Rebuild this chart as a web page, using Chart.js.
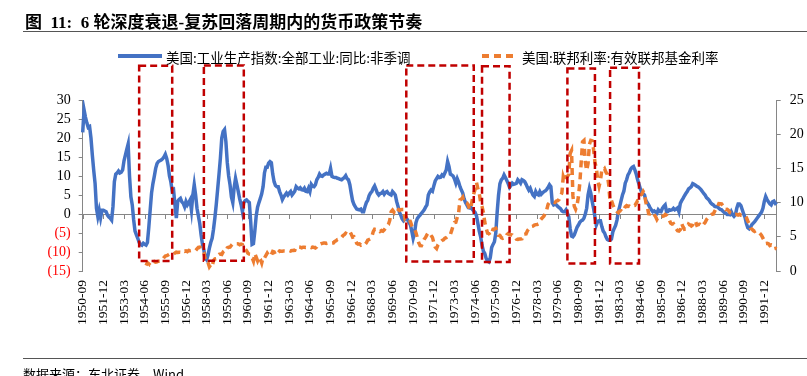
<!DOCTYPE html>
<html>
<head>
<meta charset="utf-8">
<script src="https://cdn.jsdelivr.net/npm/chart.js@4/dist/chart.umd.min.js"></script>
<style>
  body { margin: 0; background: #fff; }
  #wrap { position: relative; width: 807px; height: 376px; overflow: hidden; background: #fff; }
  #myChart { position: absolute; left: 0; top: 0; }
  .txt { position: absolute; white-space: nowrap; color: #000; }
  #title { left: 25px; top: 8px; font: bold 17px "Liberation Serif", "Noto Sans CJK SC"; }
  .rule { position: absolute; left: 23px; right: 0; height: 0; border-top: 1.5px solid #555; }
  .legtxt { font: 13.5px "Noto Sans CJK SC"; top: 47px; }
  .legline { position: absolute; top: 54px; height: 4px; }
  #source { left: 23px; top: 364px; font: 13px "Noto Sans CJK SC", "Liberation Serif"; }
</style>
</head>
<body>
<div id="wrap">
  <canvas id="myChart" width="807" height="376"></canvas>
  <div id="title" class="txt">图&nbsp; 11:&nbsp; 6 轮深度衰退-复苏回落周期内的货币政策节奏</div>
  <div class="rule" style="top:31px"></div>
  <div class="legline" style="left:118px;width:44px;background:#4472C4"></div>
  <div id="leg1" class="txt legtxt" style="left:166px"></div>
  <div class="legline" style="left:482px;width:36px;background:repeating-linear-gradient(to right,#ED7D31 0 7px,transparent 7px 12px)"></div>
  <div id="leg2" class="txt legtxt" style="left:522px"></div>
  <div class="rule" style="top:358px"></div>
  <div id="source" class="txt">数据来源：东北证券，Wind</div>
</div>
<script>
// series names
const seriesNames = ['美国:工业生产指数:全部工业:同比:非季调', '美国:联邦利率:有效联邦基金利率'];

// monthly categories 1950-09 .. 1992-09
const monthLabels = [];
for (let y = 1950; y <= 1992; y++) {
    for (let m = 1; m <= 12; m++) {
        if (y === 1950 && m < 9) continue;
        if (y === 1992 && m > 9) break;
        monthLabels.push(y + '-' + (m < 10 ? '0' + m : m));
    }
}

// industrial production yoy, %, left axis
const ipYoY = [
    21.5, 27.4, 25.5, 24,
    22.8, 23, 20, 15.5, 11.5, 8, 1.5, -0.7, 1, -1, 1, 1,
    0.8, 0.6, -0.3, -0.8, -1.1, -1.6, 2, 8.5, 10.5, 10.8, 11.3, 10.8,
    11, 11.6, 14, 15.5, 17, 18.4, 10, 4.5, 2.4, -1.5, -4.5, -5.5,
    -6.4, -7.5, -8, -8.2, -7.7, -8, -8.2, -7.5, -3.5, 1, 5.5, 8,
    9.9, 12, 13.3, 13.8, 14, 14.2, 14.5, 15, 15.7, 14.6, 12.8, 10,
    8.5, 6, 6.3, 2.4, -1.1, 3.3, 3.8, 4.1, 3.2, 2.8, 1.9, 3.3,
    2.4, 3, 3.7, 1, 5, 7.7, 5, 1.5, -0.5, -2.5, -5.5, -8,
    -9.5, -11.5, -12, -10.8, -9, -7.5, -6.4, -4, -1, 2.5, 6.5, 10.5,
    14.7, 20, 21.7, 22.2, 19, 13.5, 10, 7.7, 4.5, 3, 7, 9.4,
    7.7, 5.9, 4, 2.5, 0.6, 3, 3.5, 3.7, 3.3, 3, -2, -8,
    -7.8, -4.5, -0.5, 1.8, 3, 4.1, 5.3, 7.2, 10.8, 12.3, 12.3, 13.4,
    13.8, 13.5, 10.5, 8.5, 7.5, 7.2, 7.2, 5.9, 5, 3.8, 4.5, 5,
    5.5, 5, 5.5, 5.9, 5, 5.5, 6, 7.2, 6.8, 6.6, 6.9, 6.4,
    6.3, 6.8, 6, 5.9, 6.8, 5.9, 7.8, 7.3, 7.2, 7.7, 9, 9.6,
    10.5, 10, 9.9, 10.3, 10.5, 10.7, 10.5, 10.5, 12, 9.9, 9.7, 9.6,
    9.6, 9.4, 9.3, 9.1, 9, 9.3, 9.6, 10.1, 9.3, 9, 7.7, 5.5,
    3.5, 2.5, 1.9, 1.3, 1.2, 1.1, 1.3, 0.6, 0.6, 1.9, 3, 3.6,
    4.8, 5.5, 5.9, 6.8, 7.4, 6.5, 5.5, 5, 5.4, 5.5, 5.9, 5.2,
    5.7, 5.9, 5.4, 5.2, 5, 5.9, 5.5, 5, 3.3, 2, 0.5, -0.3,
    -1.3, -1.8, -1.4, -1.1, -1.6, -2.2, -2.9, -4.5, -6.4, -5, -2.3, -1.2,
    -0.7, -0.3, 0.2, 0.6, 1.1, 1.8, 2.4, 5, 5.8, 6.3, 6, 7.4,
    8.7, 9.3, 9.9, 9.6, 9.7, 10.3, 10, 10.8, 11.6, 13.8, 12.5, 10.5,
    10.3, 10, 9.2, 8.1, 9.3, 8.4, 7.2, 6.3, 5.5, 4, 3, 2.4,
    1.7, 1.6, 1.7, 1.2, 0.8, 0.4, -0.5, -2.5, -4.5, -6, -8.2, -9.8,
    -10.4, -11.7, -12.4, -12.6, -11.5, -8.8, -8, -7.3, -5, 0.5, 5, 8,
    9, 9.4, 10.3, 9.6, 8.8, 8, 7, 7.5, 8.1, 7.8, 7.9, 8.1,
    9, 8.6, 8.1, 9, 8.8, 8.5, 7.8, 7, 6.3, 6.8, 5.8, 5,
    4.6, 5.9, 5.2, 5, 5.9, 5.2, 5.6, 5.9, 6.1, 6.5, 7, 7.7,
    7.2, 3, 2.4, 2.6, 2.4, 2, 1.7, 1.4, 0.8, 0.6, 0.6, 1.1,
    0.2, -0.7, -3.8, -5.8, -6, -5.5, -4.5, -3.5, -2.9, -2.2, -1.8, -1.6,
    -1.1, 0, 1.5, 5, 6.8, 5.5, 3.3, 1.5, -0.8, -2.9, -2, -1.8,
    -1.8, -3.3, -4.5, -5, -6, -6.7, -6.9, -6.9, -6.6, -4.7, -3.8, -3,
    -1.6, 0.6, 2, 3.5, 5, 6, 8.1, 9, 10.3, 10.9, 11.8, 12.3,
    12.5, 11.6, 10.5, 9, 7.8, 6.6, 5.7, 5.3, 5, 3.6, 3, 2.4,
    1.7, 1.1, 0.6, 0.8, 0.5, 0.2, 1.1, 0.7, 0.6, 1.5, 2, 2.4,
    0.6, 0.7, 1.1, 1, 1.1, 1.5, 1.1, 1.3, 1.6, 0.6, 2.8, 3.5,
    4.1, 4.8, 5.4, 5.9, 6.6, 6.9, 7.2, 8, 7.8, 7.6, 7.3, 7.1,
    6.8, 6.4, 5.9, 5.4, 5, 4.3, 4, 3.6, 3, 2.6, 2.4, 2,
    1.9, 1.9, 1.5, 1.2, 1.1, 0.7, 0.4, 0.2, -0.1, -0.1, -0.2, 0.6,
    -0.2, -0.6, -0.2, 1.5, 2.6, 2.6, 2.2, 1.1, 0, -0.9, -2.5, -3.6,
    -3.9, -3.4, -2.8, -2.4, -2, -1.5, -1, -0.5, 0, 0.5, 1.5, 3.3,
    4.6, 3.8, 3.2, 2.7, 2.4, 3.2, 3.4, 2.8, 3.1
];

// effective fed funds rate, %, right axis (no data before 1954-07)
const fedFunds = [
    null, null, null, null,
    null, null, null, null, null, null, null, null, null, null, null, null,
    null, null, null, null, null, null, null, null, null, null, null, null,
    null, null, null, null, null, null, null, null, null, null, null, null,
    null, null, null, null, null, null, 0.80, 1.22, 1.07, 0.85, 0.83, 1.28,
    1.39, 1.29, 1.35, 1.43, 1.43, 1.64, 1.68, 1.96, 2.18, 2.24, 2.35, 2.48,
    2.45, 2.50, 2.50, 2.62, 2.75, 2.71, 2.75, 2.73, 2.95, 2.96, 2.88, 2.94,
    2.84, 3.00, 2.96, 3.00, 3.00, 3.00, 2.99, 3.24, 3.47, 3.50, 3.28, 2.98,
    2.72, 1.67, 1.20, 1.26, 0.63, 0.93, 0.68, 1.53, 1.76, 1.80, 2.27, 2.42,
    2.48, 2.43, 2.80, 2.96, 2.90, 3.39, 3.47, 3.50, 3.76, 3.98, 4.00, 3.99,
    3.99, 3.97, 3.84, 3.92, 3.85, 3.32, 3.23, 2.98, 2.60, 2.47, 2.44, 1.98,
    1.45, 2.54, 2.02, 1.49, 1.98, 1.73, 1.17, 2.00, 1.88, 2.26, 2.62, 2.33,
    2.15, 2.37, 2.85, 2.78, 2.36, 2.68, 2.71, 2.93, 2.90, 2.90, 2.94, 2.93,
    2.92, 3.00, 2.98, 2.90, 3.00, 2.99, 3.02, 3.49, 3.48, 3.50, 3.48, 3.38,
    3.48, 3.48, 3.43, 3.47, 3.50, 3.50, 3.42, 3.50, 3.45, 3.36, 3.52, 3.85,
    3.90, 3.98, 4.04, 4.09, 4.10, 4.04, 4.09, 4.12, 4.01, 4.08, 4.10, 4.32,
    4.42, 4.60, 4.65, 4.67, 4.90, 5.17, 5.30, 5.53, 5.40, 5.53, 5.76, 5.40,
    4.94, 5.00, 4.53, 4.05, 3.94, 3.98, 3.79, 3.90, 3.99, 3.88, 4.13, 4.51,
    4.61, 4.71, 5.05, 5.76, 6.11, 6.07, 6.02, 6.03, 5.78, 5.91, 5.82, 6.02,
    6.30, 6.61, 6.79, 7.41, 8.67, 8.90, 8.61, 9.19, 9.15, 9.00, 8.85, 8.97,
    8.98, 8.98, 7.76, 8.10, 7.95, 7.61, 7.21, 6.61, 6.29, 6.20, 5.60, 4.90,
    4.14, 3.72, 3.71, 4.15, 4.63, 4.91, 5.31, 5.57, 5.55, 5.20, 4.91, 4.14,
    3.50, 3.29, 3.83, 4.17, 4.27, 4.46, 4.55, 4.80, 4.87, 5.04, 5.06, 5.33,
    5.94, 6.58, 7.09, 7.12, 7.84, 8.49, 10.40, 10.50, 10.78, 10.01, 10.03, 9.95,
    9.65, 8.97, 9.35, 10.51, 11.31, 11.93, 12.92, 12.01, 11.34, 10.06, 9.45, 8.53,
    7.13, 6.24, 5.54, 5.49, 5.22, 5.55, 6.10, 6.14, 6.24, 5.82, 5.22, 5.20,
    4.87, 4.77, 4.84, 4.82, 5.29, 5.48, 5.31, 5.29, 5.25, 5.02, 4.95, 4.65,
    4.61, 4.68, 4.69, 4.73, 5.35, 5.39, 5.42, 5.90, 6.14, 6.47, 6.51, 6.56,
    6.70, 6.78, 6.79, 6.89, 7.36, 7.60, 7.81, 8.04, 8.45, 8.96, 9.76, 10.03,
    10.07, 10.06, 10.09, 10.01, 10.24, 10.29, 10.47, 10.94, 11.43, 13.77, 13.18, 13.78,
    13.82, 14.13, 17.19, 17.61, 10.98, 9.47, 9.03, 9.61, 10.87, 12.81, 15.85, 18.90,
    19.08, 15.93, 14.70, 15.72, 18.52, 19.10, 19.04, 17.82, 15.87, 15.08, 13.31, 12.37,
    13.22, 14.78, 14.68, 14.94, 14.45, 14.15, 12.59, 10.12, 10.31, 9.71, 9.20, 8.95,
    8.68, 8.51, 8.77, 8.80, 8.63, 8.98, 9.37, 9.56, 9.45, 9.48, 9.34, 9.47,
    9.56, 9.59, 9.91, 10.29, 10.32, 11.06, 11.23, 11.64, 11.30, 9.99, 9.43, 8.38,
    8.35, 8.50, 8.58, 8.27, 7.97, 7.53, 7.88, 7.90, 7.92, 7.99, 8.05, 8.27,
    8.14, 7.86, 7.48, 6.99, 6.85, 6.92, 6.56, 6.17, 5.89, 5.85, 6.04, 6.91,
    6.43, 6.10, 6.13, 6.37, 6.85, 6.73, 6.58, 6.73, 7.22, 7.29, 6.69, 6.77,
    6.83, 6.58, 6.58, 6.87, 7.09, 7.51, 7.75, 8.01, 8.19, 8.30, 8.35, 8.76,
    9.12, 9.36, 9.85, 9.84, 9.81, 9.53, 9.24, 8.99, 9.02, 8.84, 8.55, 8.45,
    8.23, 8.24, 8.28, 8.26, 8.18, 8.29, 8.15, 8.13, 8.20, 8.11, 7.81, 7.31,
    6.91, 6.25, 6.12, 5.91, 5.78, 5.90, 5.82, 5.66, 5.45, 5.21, 4.81, 4.43,
    4.03, 4.06, 3.98, 3.73, 3.82, 3.76, 3.25, 3.30, 3.22
];

// highlighted cycles (red dashed boxes), in months and left-axis units
const boxStart = ['1954-02', '1958-01', '1970-04', '1974-11', '1980-01', '1982-08'];
const boxEnd = ['1956-02', '1960-06', '1974-05', '1976-07', '1981-09', '1984-05'];
const boxTop = [39, 39.1, 39.1, 38.9, 38.3, 38.5];
const boxBottom = [-12.4, -12.3, -12.5, -12.6, -13, -13];

document.getElementById('leg1').textContent = seriesNames[0];
document.getElementById('leg2').textContent = seriesNames[1];

const axisGrey = '#868686';

// dashed boxes around the recession-recovery windows
const cycleBoxes = {
    id: 'cycleBoxes',
    afterDatasetsDraw(chart) {
        const ctx = chart.ctx, x = chart.scales.x, y = chart.scales.y;
        ctx.save();
        ctx.strokeStyle = '#C00000';
        ctx.lineWidth = 2.5;
        ctx.setLineDash([7, 4]);
        for (let i = 0; i < boxStart.length; i++) {
            const x0 = x.getPixelForValue(monthLabels.indexOf(boxStart[i]));
            const x1 = x.getPixelForValue(monthLabels.indexOf(boxEnd[i]));
            const y0 = y.getPixelForValue(boxTop[i]);
            const y1 = y.getPixelForValue(boxBottom[i]);
            ctx.strokeRect(x0, y0, x1 - x0, y1 - y0);
        }
        ctx.restore();
    }
};

// small tick marks along the zero line, one per labelled month
const zeroTicks = {
    id: 'zeroTicks',
    beforeDatasetsDraw(chart) {
        const ctx = chart.ctx, x = chart.scales.x, y = chart.scales.y;
        const y0 = y.getPixelForValue(0);
        ctx.save();
        ctx.strokeStyle = axisGrey;
        ctx.lineWidth = 1;
        ctx.beginPath();
        for (let i = 0; i < monthLabels.length; i += 15) {
            const px = Math.round(x.getPixelForValue(i)) + 0.5;
            ctx.moveTo(px, y0);
            ctx.lineTo(px, y0 + 5);
        }
        ctx.stroke();
        ctx.restore();
    }
};

Chart.defaults.font.family = '"Liberation Serif", "Times New Roman", serif';
Chart.defaults.color = '#000';

let chartElement = document.getElementById('myChart').getContext('2d');

let myChart = new Chart(chartElement, {
    type: 'line',
    data: {
        labels: monthLabels,
        datasets: [{
            label: seriesNames[0],
            data: ipYoY,
            yAxisID: 'y',
            borderColor: '#4472C4',
            borderWidth: 3.5,
            pointRadius: 0,
            tension: 0,
            order: 1
        }, {
            label: seriesNames[1],
            data: fedFunds,
            yAxisID: 'y1',
            borderColor: '#ED7D31',
            borderWidth: 3.5,
            borderDash: [7, 5],
            pointRadius: 0,
            tension: 0,
            spanGaps: false,
            order: 0
        }]
    },
    options: {
        responsive: false,
        animation: false,
        devicePixelRatio: 1,
        layout: { padding: { top: 100, left: 0, right: 0, bottom: 0 } },
        plugins: {
            legend: { display: false },
            tooltip: { enabled: false }
        },
        scales: {
            x: {
                type: 'category',
                position: 'bottom',
                offset: false,
                grid: { display: false, drawTicks: false },
                border: { display: false },
                ticks: {
                    autoSkip: false,
                    minRotation: 90,
                    maxRotation: 90,
                    padding: 9,
                    font: { size: 13.5 },
                    callback: function(val, i) {
                        return i % 15 === 0 ? monthLabels[i] : '';
                    }
                },
                afterFit: function(scale) { scale.height = 105; }
            },
            y: {
                position: 'left',
                min: -15,
                max: 30,
                grid: {
                    color: function(c) { return c.tick && c.tick.value === 0 ? axisGrey : 'rgba(0,0,0,0)'; },
                    tickColor: axisGrey,
                    tickLength: 4
                },
                border: { display: true, color: axisGrey },
                ticks: {
                    autoSkip: false,
                    stepSize: 5,
                    padding: 8,
                    font: { size: 14 },
                    color: function(c) { return c.tick.value < 0 ? '#FF0000' : '#000'; },
                    callback: function(v) { return v < 0 ? '(' + (-v) + ')' : v; }
                },
                afterFit: function(scale) { scale.width = 82.7; }
            },
            y1: {
                position: 'right',
                min: 0,
                max: 25,
                grid: { drawOnChartArea: false, tickColor: axisGrey, tickLength: 4 },
                border: { display: true, color: axisGrey },
                ticks: { autoSkip: false, stepSize: 5, padding: 9, font: { size: 14 } },
                afterFit: function(scale) { scale.width = 30.3; }
            }
        }
    },
    plugins: [zeroTicks, cycleBoxes]
});
</script>
</body>
</html>
